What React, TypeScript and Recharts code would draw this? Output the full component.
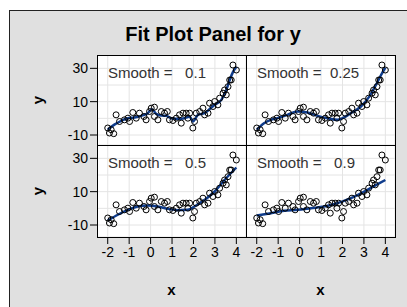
import React from 'react';
import { ComposedChart, Scatter, Line, XAxis, YAxis, CartesianGrid, ReferenceLine } from 'recharts';

// ---- data ----
const pointX = [-2.0, -1.92, -1.72, -1.84, -1.61, -1.45, -1.22, -1.06, -0.98, -0.83, -0.67, -0.52, -0.31, -0.21, -0.05, 0.03, 0.18, 0.18, 0.34, 0.5, 0.65, 0.78, 0.88, 1.04, 1.2, 1.35, 1.51, 1.43, 1.66, 1.74, 1.82, 1.97, 2.05, 2.13, 2.29, 2.44, 2.52, 2.68, 2.75, 2.91, 2.99, 3.14, 3.22, 3.38, 3.45, 3.53, 3.61, 3.69, 3.76, 3.84, 4.0];
const pointY = [-5.8, -8.8, -9.2, -6.8, 2.1, -1.9, -0.9, 0.1, -1.9, 3.5, 0.1, 3.1, 1.1, -0.9, 4.1, 6.1, 6.7, 1.1, -0.9, 4.1, 3.1, 4.1, -0.9, -1.3, 0.1, 2.1, 3.1, -2.9, 3.1, 0.1, 3.1, -5.8, -1.9, 3.1, 4.1, 6.1, 2.1, 3.1, 9.1, 7.1, 10.1, 8.1, 12.1, 15.1, 17.0, 14.1, 19.0, 23.0, 23.0, 32.0, 29.0];

const smooth01X = [-2, -1.69, -1.37, -1.06, -0.75, -0.44, -0.13, 0.06, 0.26, 0.5, 0.73, 0.96, 1.27, 1.59, 1.82, 1.97, 2.21, 2.52, 2.75, 2.99, 3.3, 3.53, 3.69, 3.85, 4.0];
const smooth01Y = [-6.8, -3.8, -1.5, 0.1, 0.5, 1.5, 3.1, 5.5, 2.7, 1.7, 1.5, 0.1, -0.3, 0.1, 1.1, -1.9, 2.1, 3.1, 5.5, 8.1, 11.1, 17.0, 23.0, 28.0, 31.0];

const smooth025X = [-2, -1.66, -1.34, -1.03, -0.57, -0.1, 0.37, 0.84, 1.3, 1.77, 2.0, 2.39, 2.86, 3.25, 3.56, 3.8, 4.0];
const smooth025Y = [-6.8, -2.9, -0.9, 0.1, 2.1, 4.1, 3.5, 1.5, 0.1, -0.9, 0.1, 3.1, 7.1, 13.0, 20.0, 26.0, 30.5];

const smooth05X = [-2, -1.53, -1.06, -0.6, -0.13, 0.34, 0.81, 1.27, 1.74, 2.05, 2.52, 2.99, 3.45, 4.0];
const smooth05Y = [-7.4, -3.85, -0.9, 1.1, 1.7, 1.1, -0.3, -1.1, -0.9, 1.1, 5.1, 10.1, 17.0, 24.5];

const smooth09X = [-2, -1.34, -0.72, -0.1, 0.53, 1.15, 1.77, 2.39, 3.02, 3.64, 4.0];
const smooth09Y = [-4.25, -2.9, -1.5, -0.9, 0.1, 1.1, 3.1, 6.1, 10.1, 14.5, 17.0];

const smoothLabels = ['0.1', '0.25', '0.5', '0.9'];
const xTicks = [-2, -1, 0, 1, 2, 3, 4];
const yTicks = [-10, 10, 30];
const yMinorGrid = [0, 20];

const points = pointX.map((x, i) => ({ x, y: pointY[i] }));
const toLine = (xs: number[], ys: number[]) => xs.map((x, i) => ({ x, y: ys[i] }));
const smooths = [
  toLine(smooth01X, smooth01Y),
  toLine(smooth025X, smooth025Y),
  toLine(smooth05X, smooth05Y),
  toLine(smooth09X, smooth09Y),
];

const FONT = '"Liberation Sans", Arial, Helvetica, sans-serif';
const X_DOMAIN: [number, number] = [-2.5, 4.45];
const GRID = '#e4e4e4';

type PanelProps = {
  left: number; top: number; w: number; h: number;
  showX: boolean; showY: boolean; yDomain: [number, number];
  line: { x: number; y: number }[]; label: string;
};

const circleShape = (p: any) => (
  <circle cx={p.cx} cy={p.cy} r={3} fill="none" stroke="#000" strokeWidth={1} />
);

function Panel({ left, top, w, h, showX, showY, yDomain, line, label }: PanelProps) {
  const AX_W = 50;
  const AX_H = 40;
  const cw = w + (showY ? AX_W : 0);
  const ch = h + (showX ? AX_H : 0);
  return (
    <>
      <div style={{ position: 'absolute', left, top, width: w, height: h, background: '#fff' }} />
      <div style={{ position: 'absolute', left: left - (showY ? AX_W : 0), top }}>
        <ComposedChart width={cw} height={ch} margin={{ top: 0, right: 0, bottom: 0, left: 0 }}>
          <CartesianGrid stroke={GRID} strokeWidth={1} />
          <XAxis
            type="number" dataKey="x" domain={X_DOMAIN} ticks={xTicks} interval={0}
            allowDataOverflow hide={!showX} height={AX_H} tickSize={7} tickMargin={3}
            axisLine={false} tickLine={{ stroke: '#000' }}
            tick={{ fill: '#000', fontSize: 14, fontFamily: FONT }}
          />
          <YAxis
            type="number" dataKey="y" domain={yDomain} ticks={yTicks} interval={0}
            allowDataOverflow hide={!showY} width={AX_W} tickSize={7} tickMargin={2}
            axisLine={false} tickLine={{ stroke: '#000' }}
            tick={{ fill: '#000', fontSize: 14, fontFamily: FONT }}
          />
          {yMinorGrid.map((v) => (
            <ReferenceLine key={v} y={v} stroke={GRID} strokeWidth={1} />
          ))}
          <Scatter data={points} dataKey="y" shape={circleShape} isAnimationActive={false} />
          <Line
            data={line} dataKey="y" type="monotone" stroke="#0f3c8c" strokeWidth={2.5}
            dot={false} activeDot={false} isAnimationActive={false}
          />
        </ComposedChart>
      </div>
      <div
        style={{
          position: 'absolute', left, top, width: w + 1, height: h + 1,
          boxSizing: 'border-box', border: '1px solid #000', pointerEvents: 'none',
        }}
      />
      <div
        style={{
          position: 'absolute', left: left + 11, top: top + 9, fontFamily: FONT,
          fontSize: 15, color: '#333', whiteSpace: 'pre', lineHeight: '17px',
        }}
      >
        {`Smooth =  ${label.length > 3 ? label : ' ' + label}`}
      </div>
    </>
  );
}

export default function App() {
  const lefts = [97, 246];
  const tops = [55, 145];
  const heights = [90, 92];
  const domains: [number, number][] = [[-16, 38], [-17.2, 38]];
  const W = 149;
  return (
    <div style={{ position: 'absolute', left: 0, top: 0, width: 407, height: 307, overflow: 'hidden', background: '#fff' }}>
      <div
        style={{
          position: 'absolute', left: 9, top: 10, width: 440, height: 340,
          background: '#e0e0e0', border: '1px solid #222', boxSizing: 'border-box',
        }}
      />
      <div
        style={{
          position: 'absolute', left: 0, top: 22, width: 426, textAlign: 'center',
          fontFamily: FONT, fontWeight: 'bold', fontSize: 20, color: '#000', lineHeight: '24px',
        }}
      >
        Fit Plot Panel for y
      </div>
      {[0, 1].map((r) =>
        [0, 1].map((c) => (
          <Panel
            key={`${r}-${c}`}
            left={lefts[c]} top={tops[r]} w={W} h={heights[r]}
            showX={r === 1} showY={c === 0} yDomain={domains[r]}
            line={smooths[r * 2 + c]} label={smoothLabels[r * 2 + c]}
          />
        ))
      )}
      {[0, 1].map((r) => (
        <div
          key={`yl${r}`}
          style={{
            position: 'absolute', left: 27, top: tops[r] + heights[r] / 2 - 10, width: 20, height: 20,
            display: 'flex', alignItems: 'center', justifyContent: 'center',
            transform: 'rotate(-90deg)', fontFamily: FONT, fontWeight: 'bold', fontSize: 15,
          }}
        >
          y
        </div>
      ))}
      {[0, 1].map((c) => (
        <div
          key={`xl${c}`}
          style={{
            position: 'absolute', left: lefts[c], top: 281, width: W, textAlign: 'center',
            fontFamily: FONT, fontWeight: 'bold', fontSize: 15, lineHeight: '18px',
          }}
        >
          x
        </div>
      ))}
    </div>
  );
}
